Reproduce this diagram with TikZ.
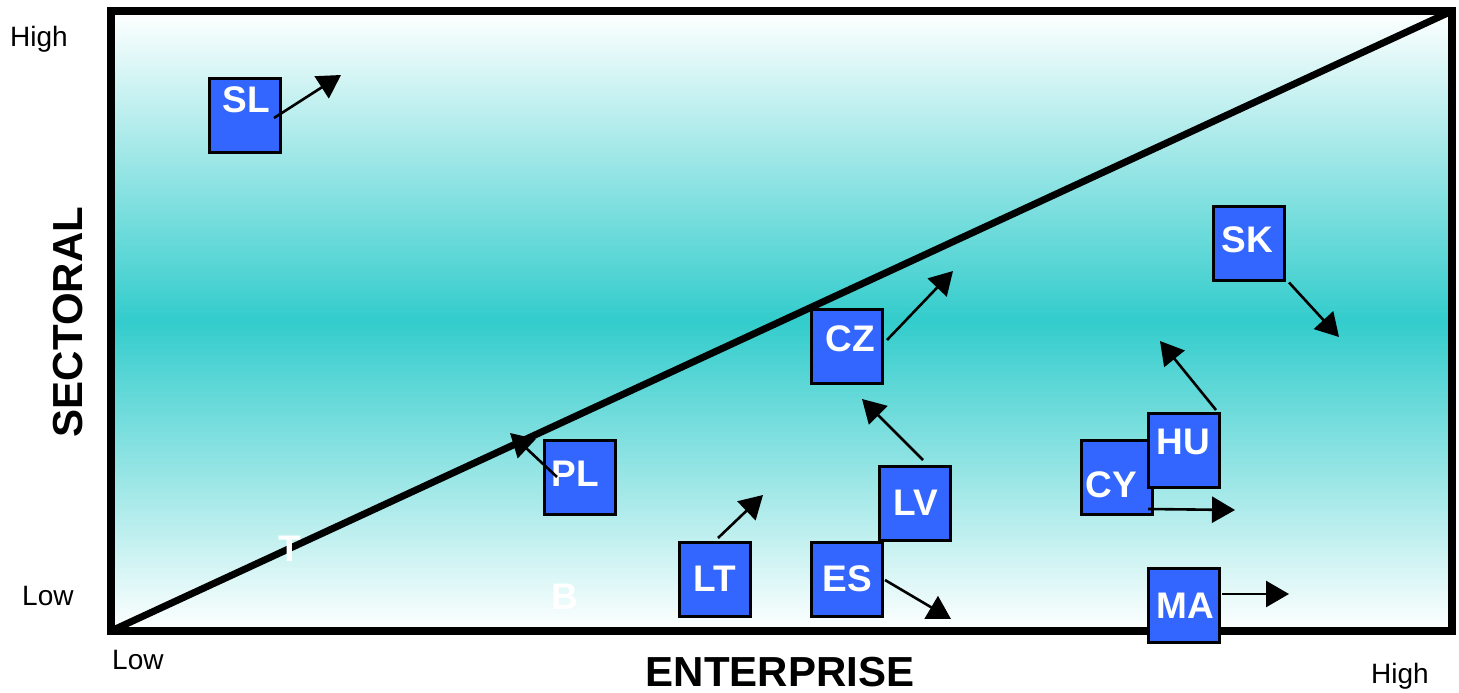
\documentclass[tikz,border=0pt]{standalone}
\usepackage{fontspec}
\setmainfont{Liberation Sans}
\usetikzlibrary{arrows.meta}
\definecolor{tealbg}{HTML}{33CCCC}
\definecolor{boxblue}{HTML}{3366FF}
\begin{document}
\begin{tikzpicture}[x=1pt,y=-1pt,
  cbox/.style={draw=black, line width=3pt, fill=boxblue, minimum width=71pt, minimum height=74pt, inner sep=0pt},
  ctext/.style={text=white, font=\fontsize{37}{40}\selectfont\bfseries, inner sep=0pt},
  move/.style={line width=2.6pt, -{Triangle[length=23pt,width=26pt]}},
  axlabel/.style={font=\fontsize{28}{30}\selectfont, inner sep=0pt, anchor=base west},
  axtitle/.style={font=\fontsize{42}{44}\selectfont\bfseries, inner sep=0pt}]
\useasboundingbox (0,0) rectangle (1459,693);
% background gradient
\shade[top color=white, bottom color=white, middle color=tealbg] (111,11) rectangle (1452,631);
% frame and diagonal
\coordinate (o) at (111,631);
\coordinate (ne) at (1452,11);
\draw[line width=8pt] (o) rectangle (ne);
\draw[line width=7pt] (o) -- (ne);
% axis labels
\node[axlabel] (yhigh) at (10,47) {High};
\node[axlabel] (ylow) at (22,605) {Low};
\node[axlabel] (xlow) at (112,669) {Low};
\node[axlabel] (xhigh) at (1371,683) {High};
\node[axtitle] (xtitle) at (780,672) {ENTERPRISE};
\node[axtitle, rotate=90] (ytitle) at (68,322) {SECTORAL};
% faint region letters
\node[ctext] (tlet) at (290,549) {T};
\node[ctext] (blet) at (565,597) {B};
% country boxes
\node[cbox, label={[ctext,shift={(1.5,-15.5)}]center:SL}] (sl) at (245,115.5) {};
\node[cbox, label={[ctext,shift={(3,-7.5)}]center:CZ}] (cz) at (847,346) {};
\node[cbox, label={[ctext,shift={(-4.5,-4)}]center:PL}] (pl) at (580,477.5) {};
\node[cbox, label={[ctext]center:LT}] (lt) at (715,579) {};
\node[cbox, label={[ctext,shift={(1,0)}]center:LV}] (lv) at (914.5,503) {};
\node[cbox, label={[ctext]center:ES}] (es) at (847,579) {};
\node[cbox, label={[ctext,shift={(-6,7.5)}]center:CY}] (cy) at (1117,477.5) {};
\node[cbox, label={[ctext,shift={(-1,-9)}]center:HU}] (hu) at (1184,450.5) {};
\node[cbox, label={[ctext,shift={(1.5,0)}]center:MA}] (ma) at (1184,605.5) {};
\node[cbox, label={[ctext,shift={(-1.5,-3.5)}]center:SK}] (sk) at (1249,243.5) {};
% arrow targets
\coordinate (slto) at (341,75);
\coordinate (czto) at (953,271);
\coordinate (plto) at (510,433);
\coordinate (lvto) at (862,399);
\coordinate (ltto) at (763,495);
\coordinate (esto) at (951,619);
\coordinate (huto) at (1160,341);
\coordinate (skto) at (1339,337);
\coordinate (cyto) at (1235,510);
\coordinate (mato) at (1289,594);
% movement arrows
\draw[move] ([shift={(29,2.5)}]sl.center) -- (slto);
\draw[move] ([shift={(40,-6)}]cz.center) -- (czto);
\draw[move] ([shift={(-23,-0.5)}]pl.center) -- (plto);
\draw[move] ([shift={(8.5,-43)}]lv.center) -- (lvto);
\draw[move] ([shift={(3,-41)}]lt.center) -- (ltto);
\draw[move] ([shift={(38,1)}]es.center) -- (esto);
\draw[move] ([shift={(32,-40.5)}]hu.center) -- (huto);
\draw[move] ([shift={(40,39)}]sk.center) -- (skto);
\draw[move] ([shift={(31,31.5)}]cy.center) -- (cyto);
\draw[move] ([shift={(38,-11.5)}]ma.center) -- (mato);
\end{tikzpicture}
\end{document}
